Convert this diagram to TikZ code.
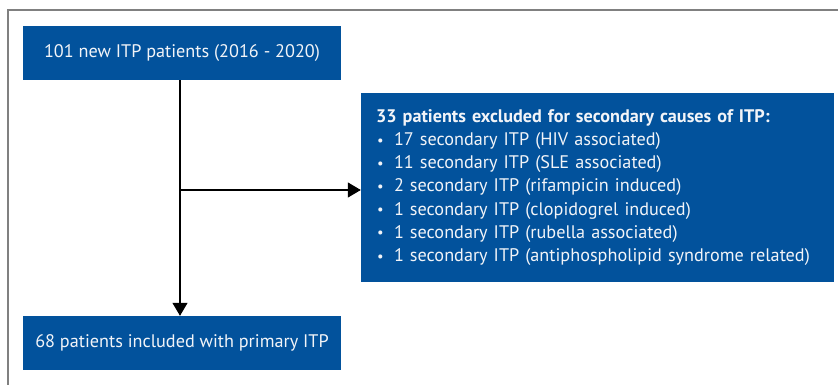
\documentclass[tikz,border=0pt]{standalone}
\usepackage{fontspec}
\setmainfont{PT Sans}
\usetikzlibrary{arrows.meta}
\definecolor{boxblue}{RGB}{2,82,156}
\definecolor{framegray}{RGB}{128,128,128}
\definecolor{boxtext}{RGB}{242,244,248}
\newcommand{\listmark}{\makebox[18pt][l]{\hspace{1pt}\raisebox{0.5pt}{\scalebox{0.8}{•}}}}
\begin{document}
\begin{tikzpicture}[x=1pt,y=-1pt,
  flowbox/.style={fill=boxblue,text=boxtext,inner sep=0pt,
    font=\fontsize{18.2}{23.2}\selectfont},
  arr/.style={line width=1.2pt,-{Triangle[length=13pt,width=15pt]}}]
  \useasboundingbox (0,0) rectangle (838,385);
  % outer frame, running off the right and bottom edges
  \begin{scope}
    \clip (0,0) rectangle (838,385);
    \draw[framegray,line width=1.2pt] (8,10) rectangle (860,400);
  \end{scope}
  % boxes
  \node[flowbox,minimum width=318pt,minimum height=54pt] (start) at (182,53)
    {101 new ITP patients (2016 - 2020)};
  \node[flowbox,minimum width=318pt,minimum height=54pt] (incl) at (182,343)
    {68 patients included with primary ITP};
  \node[flowbox,minimum width=473pt,minimum height=189pt,align=left,
    text width=443pt] (excl) at (597.5,187.5)
    {\textbf{33 patients excluded for secondary causes of ITP:}\\
     \listmark 17 secondary ITP (HIV associated)\\
     \listmark 11 secondary ITP (SLE associated)\\
     \listmark 2 secondary ITP (rifampicin induced)\\
     \listmark 1 secondary ITP (clopidogrel induced)\\
     \listmark 1 secondary ITP (rubella associated)\\
     \listmark 1 secondary ITP (antiphospholipid syndrome related)};
  % connectors
  \coordinate (split) at (180,190);
  \draw[line width=1.2pt] (split |- start.south) -- (split);
  \draw[arr] (split) -- (split |- incl.north);
  \draw[arr] (split) -- (split -| excl.west);
\end{tikzpicture}
\end{document}
